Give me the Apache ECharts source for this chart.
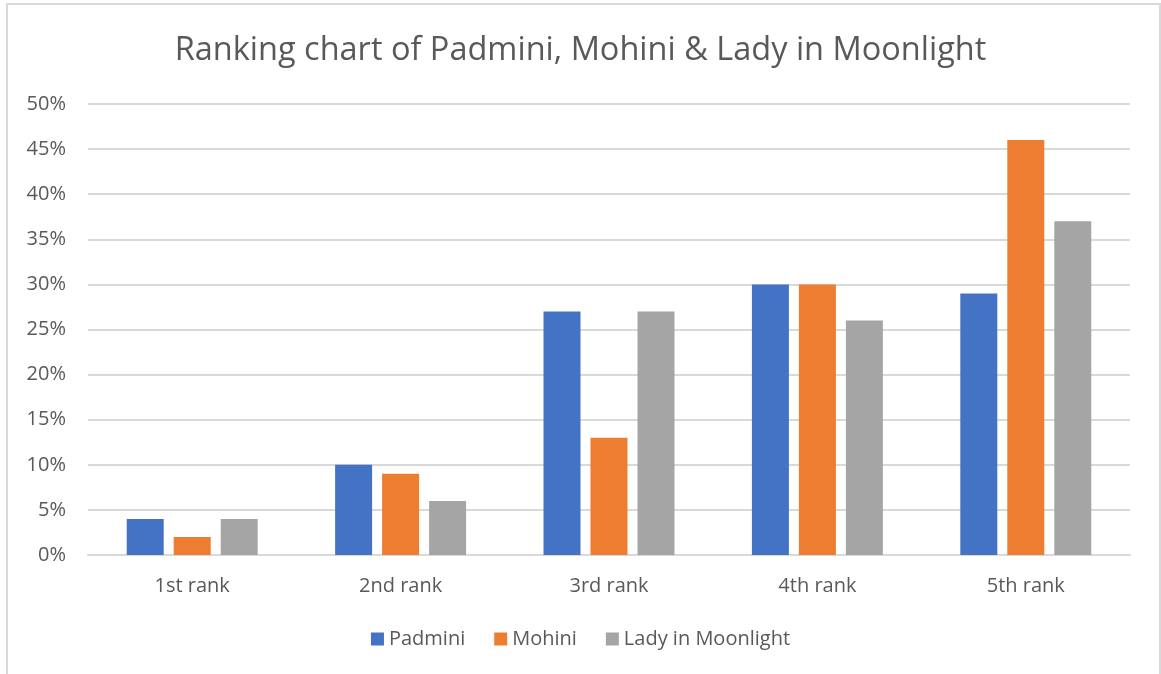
<!DOCTYPE html>
<html lang="en">
<head>
    <meta charset="UTF-8">
    <title>Ranking chart</title>
    <script src="https://cdn.jsdelivr.net/npm/echarts@6/dist/echarts.min.js"></script>
    <style>
        html, body { margin: 0; padding: 0; background: #fff; }
        #chart { width: 1161px; height: 674px; }
    </style>
</head>
<body>
<div id="chart"></div>
<script type="text/javascript">
    var categories = ['1st rank', '2nd rank', '3rd rank', '4th rank', '5th rank'];
    var padmini = [4, 10, 27, 30, 29];
    var mohini = [2, 9, 13, 30, 46];
    var lady = [4, 6, 27, 26, 37];

    var textColor = '#595959';
    var fontFamily = 'Open Sans';

    var chart = echarts.init(document.getElementById('chart'));

    function bar(name, data, color) {
        return {
            name: name,
            type: 'bar',
            data: data,
            barWidth: 37,
            barGap: '27%',
            itemStyle: { color: color }
        };
    }

    var option = {
        animation: false,
        graphic: [{
            type: 'rect',
            shape: { x: 7, y: 4, width: 1153, height: 720 },
            style: { fill: 'none', stroke: '#d9d9d9', lineWidth: 2 },
            silent: true
        }],
        title: {
            text: 'Ranking chart of Padmini, Mohini & Lady in Moonlight',
            left: 'center',
            top: 29,
            textStyle: {
                color: textColor,
                fontFamily: fontFamily,
                fontSize: 32.5,
                fontWeight: 'normal'
            }
        },
        legend: {
            bottom: 20,
            left: 'center',
            itemWidth: 13,
            itemHeight: 13,
            itemGap: 29,
            icon: 'rect',
            textStyle: { color: textColor, fontFamily: fontFamily, fontSize: 20 }
        },
        grid: { left: 88, right: 31, top: 104, bottom: 119 },
        xAxis: {
            type: 'category',
            data: categories,
            axisLine: { lineStyle: { color: '#d9d9d9', width: 2 } },
            axisTick: { show: false },
            axisLabel: { color: textColor, fontFamily: fontFamily, fontSize: 20, margin: 21 }
        },
        yAxis: {
            type: 'value',
            min: 0,
            max: 50,
            interval: 5,
            axisLine: { show: false },
            axisTick: { show: false },
            splitLine: { lineStyle: { color: '#d9d9d9', width: 2 } },
            axisLabel: {
                color: textColor,
                fontFamily: fontFamily,
                fontSize: 20,
                margin: 22,
                formatter: '{value}%'
            }
        },
        series: [
            bar('Padmini', padmini, '#4472C4'),
            bar('Mohini', mohini, '#ED7D31'),
            bar('Lady in Moonlight', lady, '#A5A5A5')
        ]
    };

    chart.setOption(option);
</script>
</body>
</html>
